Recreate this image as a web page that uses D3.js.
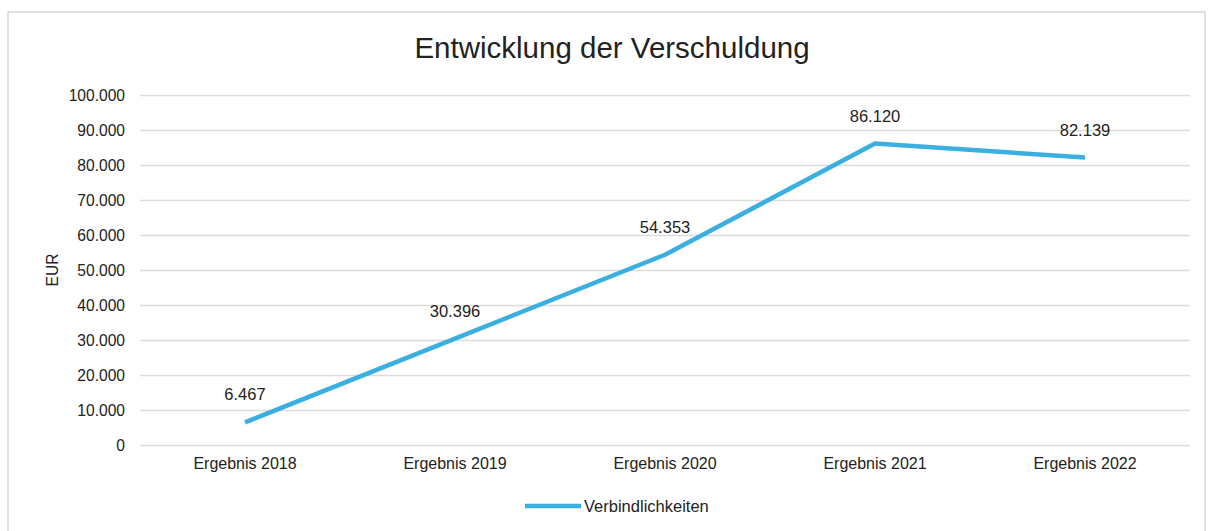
<!DOCTYPE html>
<html><head><meta charset="utf-8">
<script src="https://cdn.jsdelivr.net/npm/d3@7"></script>
<style>body{margin:0;background:#fff;font-family:"Liberation Sans",Arial,sans-serif;}</style>
</head><body><svg id="c" width="1215" height="531"></svg>
<script>
const categories = ["Ergebnis 2018","Ergebnis 2019","Ergebnis 2020","Ergebnis 2021","Ergebnis 2022"];
const values = [6467, 30396, 54353, 86120, 82139];
const valueLabels = ["6.467","30.396","54.353","86.120","82.139"];
const yTicks = [0,10000,20000,30000,40000,50000,60000,70000,80000,90000,100000];
const seriesName = "Verbindlichkeiten";
const title = "Entwicklung der Verschuldung";
const yTitle = "EUR";

const svg = d3.select("#c");
const m = {left:140, right:1190, top:95, bottom:445};
svg.append("rect").attr("x",8).attr("y",12).attr("width",1197).attr("height",530)
  .attr("fill","none").attr("stroke","#d6d6d6").attr("stroke-width",1.5);

const x = d3.scaleBand().domain(categories).range([m.left,m.right]);
const y = d3.scaleLinear().domain([0,100000]).range([m.bottom,m.top]);
const fmt = v => d3.format(",")(v).replace(/,/g,".");
const FF = "Liberation Sans, Arial, sans-serif";

svg.append("text").attr("x",612).attr("y",58).attr("text-anchor","middle")
  .attr("font-size",29.5).attr("fill","#222").text(title);

const ya = svg.append("g").attr("transform",`translate(${m.left},0)`)
  .call(d3.axisLeft(y).tickValues(yTicks).tickFormat(fmt).tickSize(-(m.right-m.left)).tickPadding(15));
ya.select(".domain").remove();
ya.selectAll("line").attr("stroke","#dcdcdc").attr("stroke-width",1.3);
ya.selectAll("text").attr("font-size",15.6).attr("fill","#222").attr("font-family",FF);

const xa = svg.append("g").attr("transform",`translate(0,${m.bottom})`)
  .call(d3.axisBottom(x).tickSize(0).tickPadding(13));
xa.select(".domain").remove();
xa.selectAll("text").attr("font-size",16).attr("fill","#222").attr("font-family",FF);

svg.append("text").attr("transform","translate(58,270) rotate(-90)").attr("text-anchor","middle")
  .attr("font-size",15.6).attr("fill","#222").text(yTitle);

const cx = d => x(d) + x.bandwidth()/2;
const line = d3.line().x((d,i)=>cx(categories[i])).y(d=>y(d));
svg.append("path").datum(values).attr("d",line).attr("fill","none")
  .attr("stroke","#3aafe0").attr("stroke-width",4.5).attr("stroke-linejoin","round");

svg.selectAll(".lbl").data(values).enter().append("text")
  .attr("x",(d,i)=>cx(categories[i])).attr("y",d=>y(d)-22)
  .attr("text-anchor","middle").attr("font-size",16.5).attr("fill","#222")
  .text((d,i)=>valueLabels[i]);

svg.append("line").attr("x1",525).attr("x2",581).attr("y1",506).attr("y2",506)
  .attr("stroke","#3aafe0").attr("stroke-width",4.5);
svg.append("text").attr("x",584).attr("y",511.5).attr("font-size",16.5).attr("fill","#222").text(seriesName);
</script></body></html>
